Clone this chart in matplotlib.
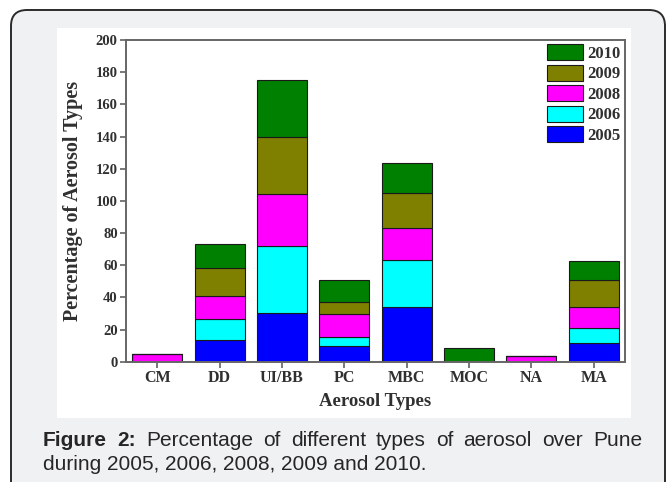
import numpy as np
import matplotlib
matplotlib.use("Agg")
import matplotlib.pyplot as plt
from matplotlib.patches import FancyBboxPatch, Rectangle
from matplotlib.transforms import IdentityTransform

# aerosol type shares per year (stacked)
types = ['CM', 'DD', 'UI/BB', 'PC', 'MBC', 'MOC', 'NA', 'MA']
years = ['2005', '2006', '2008', '2009', '2010']
y2005 = [0, 13.5, 30.4, 9.7, 34.1, 0, 0, 11.8]
y2006 = [0, 13.2, 41.6, 5.4, 29.0, 0, 0, 9.3]
y2008 = [5.0, 14.1, 32.5, 14.5, 20.3, 0, 3.5, 13.0]
y2009 = [0, 17.7, 35.1, 7.6, 21.7, 0, 0, 16.6]
y2010 = [0, 14.5, 35.6, 13.9, 18.4, 8.5, 0, 11.8]
colors = ['#0000ff', '#00ffff', '#ff00ff', '#808000', '#008000']

W, H = 666, 482
fig = plt.figure(figsize=(W / 100, H / 100), dpi=100)
fig.patch.set_facecolor('white')

# card background with rounded border (pixel coords, origin bottom-left)
card = FancyBboxPatch((11, -80), 654, 552, boxstyle='round,pad=0,rounding_size=16',
                      transform=IdentityTransform(), facecolor='#f0f1f3',
                      edgecolor='#2b2b2b', linewidth=1.4, zorder=-3)
fig.patches.append(card)
fig.patches.append(Rectangle((57, H - 418), 574, 390, transform=IdentityTransform(),
                             facecolor='white', edgecolor='none', zorder=-2))

ax = fig.add_axes([126 / W, 1 - 361.7 / H, (625 - 126) / W, (361.7 - 40) / H])
ax.set_facecolor('white')

serif = 'Liberation Serif'
txt = '#303030'
x = np.arange(len(types))
bottom = np.zeros(len(types))
for vals, yr, c in zip([y2005, y2006, y2008, y2009, y2010], years, colors):
    vals = np.array(vals)
    ax.bar(x, vals, width=0.8, bottom=bottom, color=c, edgecolor='#1a1a1a',
           linewidth=0.8, label=yr)
    bottom += vals

ax.set_xlim(-0.5, 7.5)
ax.set_ylim(0, 200)
ax.set_yticks(np.arange(0, 201, 20))
ax.set_xticks(x)
ax.set_xticklabels(types, fontfamily=serif, fontweight='bold', fontsize=11.5, color=txt)
for lab in ax.get_yticklabels():
    lab.set_fontfamily(serif)
    lab.set_fontweight('bold')
    lab.set_fontsize(10.5)
    lab.set_color(txt)
ax.tick_params(direction='out', length=4, width=1.1, color='#555555', pad=2)
for s in ax.spines.values():
    s.set_color('#666666')
    s.set_linewidth(1.4)

ax.set_xlabel('Aerosol Types', fontfamily=serif, fontweight='bold', fontsize=13.5,
              color=txt, labelpad=5)
ax.set_ylabel('Percentage of Aerosol Types', fontfamily=serif, fontweight='bold',
              fontsize=14.5, color=txt, labelpad=9)

h, l = ax.get_legend_handles_labels()
ax.legend(h[::-1], l[::-1], loc='upper right', bbox_to_anchor=(1.0, 1.0), frameon=False,
          prop={'family': serif, 'weight': 'bold', 'size': 12},
          handlelength=2.15, handleheight=1.08, labelspacing=0.18, handletextpad=0.3,
          borderaxespad=0.15, borderpad=0.1)
for t in ax.get_legend().get_texts():
    t.set_color(txt)

# caption, first line justified
cap_size = 15
cap_color = '#262626'
line1 = [('Figure', 'bold'), ('2:', 'bold'), ('Percentage', 'normal'), ('of', 'normal'),
         ('different', 'normal'), ('types', 'normal'), ('of', 'normal'),
         ('aerosol', 'normal'), ('over', 'normal'), ('Pune', 'normal')]
x_left, x_right = 43, 642
base1, base2 = H - 446.5, H - 469.5
words = [fig.text(0, base1 / H, w, fontsize=cap_size, fontweight=fw, color=cap_color,
                  family='Liberation Sans', va='baseline') for w, fw in line1]
renderer = fig.canvas.get_renderer()
widths = [t.get_window_extent(renderer).width for t in words]
gap = (x_right - x_left - sum(widths)) / (len(words) - 1)
pos = x_left
for t, w in zip(words, widths):
    t.set_x(pos / W)
    pos += w + gap
fig.text(x_left / W, base2 / H, 'during 2005, 2006, 2008, 2009 and 2010.', fontsize=cap_size,
         color=cap_color, family='Liberation Sans', va='baseline')

fig.savefig('out.png', dpi=100)
